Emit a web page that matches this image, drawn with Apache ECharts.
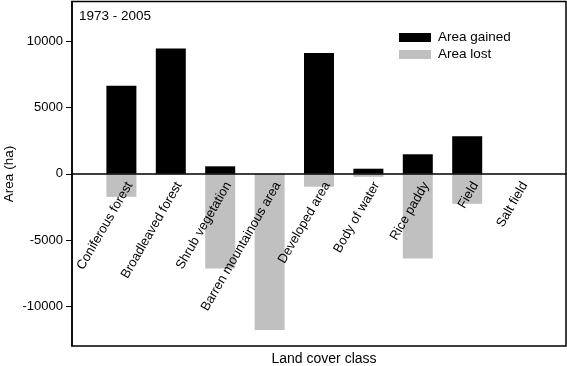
<!DOCTYPE html>
<html>
<head>
<meta charset="utf-8">
<script src="https://cdn.jsdelivr.net/npm/echarts@6/dist/echarts.min.js"></script>
<style>
  html, body { margin: 0; padding: 0; background: #fff; }
  #chart { width: 567px; height: 366px; }
</style>
</head>
<body>
<div id="chart"></div>
<script>
// Land cover change 1973 - 2005
const categories = [
  'Coniferous forest', 'Broadleaved forest', 'Shrub vegetation',
  'Barren mountainous area', 'Developed area', 'Body of water',
  'Rice paddy', 'Field', 'Salt field'
]
const areaGained = [6650, 9450, 560, 0, 9120, 380, 1470, 2830, 0]
const areaLost = [-1740, 0, -7150, -11800, -980, -230, -6390, -2270, 0]
const yTicks = [-10000, -5000, 0, 5000, 10000]

const FONT = 'Liberation Sans, Arial, sans-serif'

// pad one empty slot at each end so bars sit between the box edges
const pad = (arr, fill) => [fill, ...arr, fill]

const GRID_TOP = 1.5
const GRID_BOTTOM = 20
const H = 366

const chart = echarts.init(document.getElementById('chart'), null, { renderer: 'canvas' })

// labels must sit on the zero line, so shift the x axis up from the bottom by half the plot height
const zeroOffset = (H - GRID_TOP - GRID_BOTTOM) / 2

chart.setOption({
  animation: false,
  textStyle: { fontFamily: FONT },
  grid: {
    left: 72, right: 1, top: GRID_TOP, bottom: GRID_BOTTOM,
    containLabel: false, outerBoundsMode: 'none',
    show: true, borderColor: '#000', borderWidth: 1.5
  },
  legend: {
    orient: 'vertical',
    left: 399, top: 30, padding: 0,
    itemWidth: 32, itemHeight: 9, itemGap: 2,
    icon: 'rect',
    textStyle: { fontSize: 13.5, color: '#000', lineHeight: 15, fontFamily: FONT, padding: [0, 0, 0, 2] },
    data: [
      { name: 'Area gained', itemStyle: { color: '#000' } },
      { name: 'Area lost', itemStyle: { color: '#c0c0c0' } }
    ]
  },
  graphic: [
    { type: 'text', left: 79, top: 9, style: { text: '1973 - 2005', font: '13.5px ' + FONT, fill: '#000' } },
    {
      type: 'text', x: 324, y: 359,
      style: { text: 'Land cover class', font: '14px ' + FONT, fill: '#000', align: 'center', verticalAlign: 'middle' }
    },
    {
      type: 'text', x: 9, y: 174, rotation: Math.PI / 2,
      style: { text: 'Area (ha)', font: '13.5px ' + FONT, fill: '#000', align: 'center', verticalAlign: 'middle' }
    }
  ],
  xAxis: {
    type: 'category',
    data: pad(categories, ''),
    boundaryGap: false,
    position: 'bottom',
    offset: -zeroOffset,
    z: 5,
    axisLine: { onZero: false, lineStyle: { color: '#000', width: 1.5 } },
    axisTick: { show: false },
    axisLabel: {
      interval: 0, rotate: 60, fontSize: 13, color: '#000',
      margin: 4.5, verticalAlign: 'top', padding: [3, 0, 0, 0]
    }
  },
  yAxis: {
    type: 'value',
    min: -13000, max: 13000,
    axisLine: { show: true, lineStyle: { color: '#000', width: 1.5 } },
    axisTick: { show: true, length: 6, customValues: yTicks, lineStyle: { color: '#000' } },
    axisLabel: {
      customValues: yTicks, fontSize: 13, color: '#000', margin: 9,
      formatter: (v) => String(v)
    },
    splitLine: { show: false }
  },
  series: [
    {
      name: 'Area gained', type: 'bar', stack: 'area', barWidth: 30,
      itemStyle: { color: '#000' },
      data: pad(areaGained, null)
    },
    {
      name: 'Area lost', type: 'bar', stack: 'area', barWidth: 30,
      itemStyle: { color: '#c0c0c0' },
      data: pad(areaLost, null)
    }
  ]
})
</script>
</body>
</html>
